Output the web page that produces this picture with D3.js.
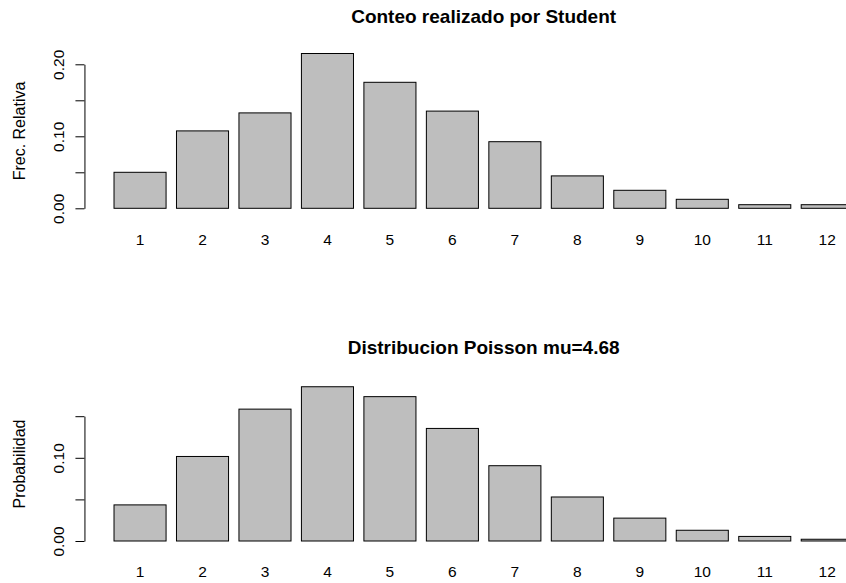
<!DOCTYPE html>
<html>
<head>
<meta charset="utf-8">
<script src="https://cdn.jsdelivr.net/npm/d3@7"></script>
<style>
  body { margin: 0; background: #fff; }
  svg { display: block; overflow: hidden; }
  text { font-family: "Liberation Sans", Arial, Helvetica, sans-serif; fill: #000; }
</style>
</head>
<body>
<div id="chart"></div>
<script>
// counts 1..12 (Student, 400 squares)
var categorias = ["1","2","3","4","5","6","7","8","9","10","11","12"];
var frecRelativa = [0.05, 0.1075, 0.1325, 0.215, 0.175, 0.135, 0.0925, 0.045, 0.025, 0.0125, 0.005, 0.005];
var probPoisson = [0.0434, 0.1016, 0.1585, 0.1854, 0.1735, 0.1353, 0.0905, 0.0529, 0.0275, 0.0129, 0.0055, 0.0021];
var ticksArriba = [0, 0.05, 0.10, 0.15, 0.20];
var ticksAbajo = [0, 0.05, 0.10, 0.15];
var etiquetasArriba = [0, 0.10, 0.20];
var etiquetasAbajo = [0, 0.10];

var width = 846, height = 583;

var svg = d3.select("#chart").append("svg")
    .attr("width", width)
    .attr("height", height);

// barplot x coords: bars 0.2..14.4 (width 1, space 0.2), 52.06 px per unit
var unidad = 52.06, x0 = 103.6;
var x = d3.scaleBand()
    .domain(categorias)
    .range([x0, x0 + 14.6 * unidad])
    .paddingInner(1/6)
    .paddingOuter(1/6);

var ejeX = x0 - 0.368 * unidad;   // left edge of plot region
var centro = x0 + (14.4 + 0.2) / 2 * unidad; // centre of plot region (for titles)

function panel(valores, cfg){
    var y = d3.scaleLinear().domain(cfg.dominio).range(cfg.rango);
    var g = svg.append("g");

    g.selectAll(".bar")
        .data(valores)
        .enter()
        .append("rect")
        .attr("class", "bar")
        .attr("x", function(d, i){ return x(categorias[i]); })
        .attr("width", x.bandwidth())
        .attr("y", function(d){ return y(d); })
        .attr("height", function(d){ return y(0) - y(d); })
        .attr("fill", "#bebebe")
        .attr("stroke", "#000")
        .attr("stroke-width", 1);

    // y axis, R style: vertical labels, only some labelled
    var ay = g.append("g")
        .attr("transform", "translate(" + ejeX + ",0)")
        .call(d3.axisLeft(y)
            .tickValues(cfg.ticks)
            .tickSize(9)
            .tickSizeOuter(0)
            .tickFormat(function(d){
                var ok = cfg.etiquetas.some(function(e){ return Math.abs(e - d) < 1e-9; });
                return ok ? d3.format(".2f")(d) : "";
            }));
    ay.select(".domain").attr("stroke", "#000");
    ay.selectAll(".tick line").attr("stroke", "#000");
    ay.selectAll(".tick text")
        .attr("x", null).attr("dy", null).attr("y", 0)
        .attr("text-anchor", "middle")
        .attr("transform", "translate(-20.5,0) rotate(-90)")
        .attr("font-size", "15.5px")
        .attr("fill", "#000");

    // x labels under bars
    var ax = g.append("g")
        .attr("transform", "translate(0," + y(0) + ")")
        .call(d3.axisBottom(x).tickSize(0));
    ax.select(".domain").remove();
    ax.selectAll(".tick text")
        .attr("y", cfg.offsetX)
        .attr("dy", null)
        .attr("font-size", "15.5px")
        .attr("fill", "#000");

    g.append("text")
        .attr("text-anchor", "middle")
        .attr("font-size", "19px")
        .attr("font-weight", "bold")
        .attr("x", centro)
        .attr("y", cfg.tituloY)
        .text(cfg.titulo);

    g.append("text")
        .attr("text-anchor", "middle")
        .attr("font-size", "16px")
        .attr("transform", "translate(" + cfg.ylabX + "," + cfg.ylabY + ") rotate(-90)")
        .text(cfg.ylab);
}

panel(frecRelativa, {
    dominio: [0, 0.20], rango: [208.3, 64.3],
    ticks: ticksArriba, etiquetas: etiquetasArriba,
    offsetX: 36.7,
    titulo: "Conteo realizado por Student", tituloY: 22.7,
    ylab: "Frec. Relativa", ylabX: 25, ylabY: 131
});

panel(probPoisson, {
    dominio: [0, 0.15], rango: [541, 416.2],
    ticks: ticksAbajo, etiquetas: etiquetasAbajo,
    offsetX: 35.7,
    titulo: "Distribucion Poisson mu=4.68", tituloY: 354,
    ylab: "Probabilidad", ylabX: 24.5, ylabY: 464
});
</script>
</body>
</html>
